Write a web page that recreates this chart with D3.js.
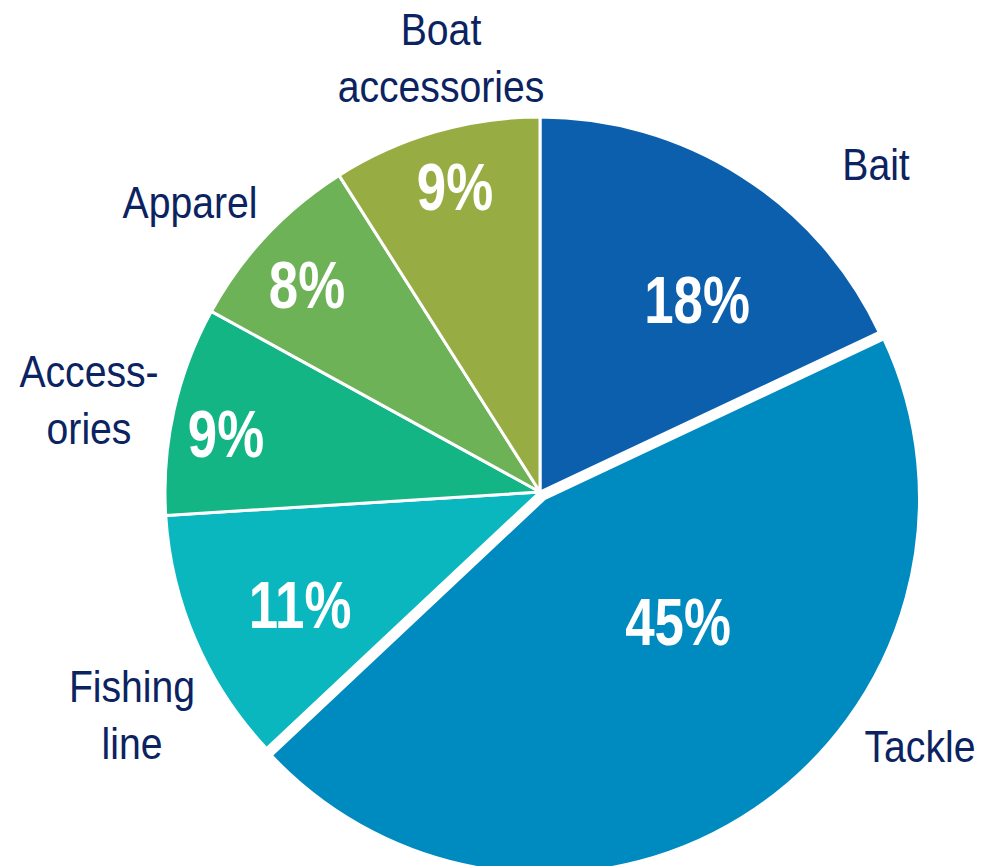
<!DOCTYPE html>
<html>
<head>
<meta charset="utf-8">
<script src="https://cdn.jsdelivr.net/npm/d3@7"></script>
<style>
  html, body { margin: 0; padding: 0; background: #ffffff; }
  svg { display: block; }
</style>
</head>
<body>
<div id="chart"></div>
<script>
// data
const categories = ["Bait", "Tackle", "Fishing line", "Accessories", "Apparel", "Boat accessories"];
const shares = [18, 45, 11, 9, 8, 9];
const outerLabels = [["Bait"], ["Tackle"], ["Fishing", "line"], ["Access-", "ories"], ["Apparel"], ["Boat", "accessories"]];
const colors = ["#0c5fac", "#008bc0", "#0ab7bf", "#13b585", "#6db257", "#97ad43"];

// layout (label anchors, pixels)
const outerPos = [[876, 180], [920, 762], [132, 702], [89, 387], [190, 218], [441, 45]];
const innerPos = [[697, 323], [678, 645], [300, 628], [226, 457], [307, 308], [455, 210]];
const explode = [0, 8, 0, 0, 0, 0];

const width = 992, height = 866;
const cx = 540, cy = 492, radius = 375;

const svg = d3.select("#chart").append("svg")
    .attr("width", width)
    .attr("height", height);

const pie = d3.pie().sort(null).value(d => d);
const arcs = pie(shares);
const arc = d3.arc().innerRadius(0).outerRadius(radius);

const slices = svg.append("g")
    .attr("transform", `translate(${cx},${cy})`);

slices.selectAll("path")
    .data(arcs)
    .enter().append("path")
    .attr("d", arc)
    .attr("transform", (d, i) => {
        const a = (d.startAngle + d.endAngle) / 2;
        return `translate(${explode[i] * Math.sin(a)},${-explode[i] * Math.cos(a)})`;
    })
    .attr("fill", (d, i) => colors[i])
    .attr("stroke", "#ffffff")
    .attr("stroke-width", 3)
    .attr("stroke-linejoin", "round");

// category names
const names = svg.append("g").selectAll("g")
    .data(outerLabels)
    .enter().append("g")
    .attr("transform", (d, i) => `translate(${outerPos[i][0]},${outerPos[i][1]})`);

names.append("text")
    .attr("transform", "scale(0.88,1)")
    .attr("text-anchor", "middle")
    .style("font-family", "'Liberation Sans', Arial, sans-serif")
    .style("font-size", "44.5px")
    .style("fill", "#0b2361")
    .selectAll("tspan")
    .data(d => d)
    .enter().append("tspan")
    .attr("x", 0)
    .attr("dy", (d, j) => j === 0 ? 0 : 57)
    .text(d => d);

// percentages
svg.append("g").selectAll("text")
    .data(shares)
    .enter().append("g")
    .attr("transform", (d, i) => `translate(${innerPos[i][0]},${innerPos[i][1]})`)
    .append("text")
    .attr("transform", "scale(0.8,1)")
    .attr("text-anchor", "middle")
    .style("font-family", "'Liberation Sans', Arial, sans-serif")
    .style("font-weight", "bold")
    .style("font-size", "66px")
    .style("fill", "#ffffff")
    .text(d => d + "%");
</script>
</body>
</html>
